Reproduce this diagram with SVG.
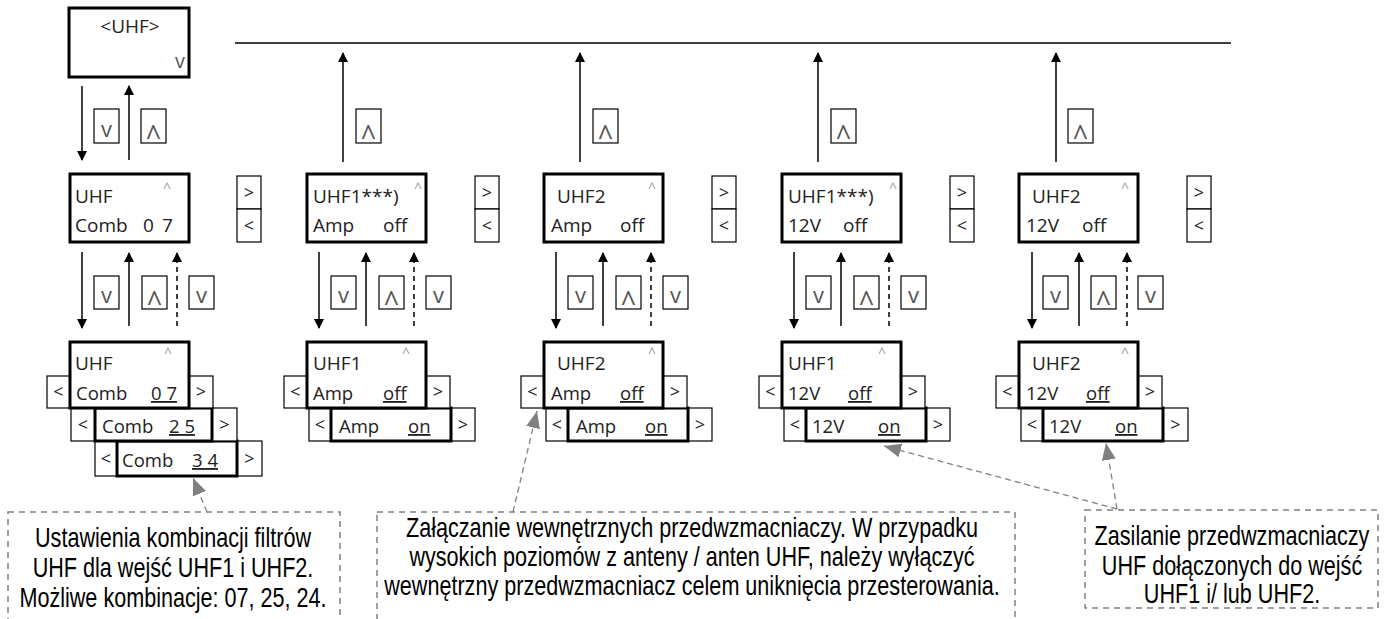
<svg xmlns="http://www.w3.org/2000/svg" width="1393" height="619" viewBox="0 0 1393 619">
<defs>
<style>
.box{fill:#fff;stroke:#000;stroke-width:3}
.btn{fill:#fff;stroke:#000;stroke-width:1.2}
.t{font-family:"Open Sans","Noto Sans",sans-serif;font-size:19px;fill:#222}
.s{font-size:18.5px}
.car{font-family:"Open Sans",sans-serif;font-size:14px;fill:#999}
.kv{font-family:"Open Sans",sans-serif;font-size:22px;fill:#555;text-anchor:middle}
.kc{font-family:"Open Sans",sans-serif;font-size:27px;fill:#555;text-anchor:middle}
.nav{font-family:"Open Sans",sans-serif;font-size:18px;fill:#222;text-anchor:middle}
.conn{stroke:#000;stroke-width:1.5;fill:none}
.dash{stroke-dasharray:5 4}
.call{fill:none;stroke:#808080;stroke-width:1.5;stroke-dasharray:6 5}
.cl{stroke:#808080;stroke-width:1.3;fill:none;stroke-dasharray:6 4}
.ct{font-family:"Liberation Sans",Arial,sans-serif;font-size:27px;fill:#000;text-anchor:middle}
.u{text-decoration:underline}
</style>
<marker id="ah" markerUnits="userSpaceOnUse" markerWidth="10" markerHeight="12" refX="9" refY="5" orient="auto">
<path d="M0,0 L10,5 L0,10 z" fill="#000"/>
</marker>
<marker id="gh" markerUnits="userSpaceOnUse" markerWidth="18" markerHeight="16" refX="17" refY="7" orient="auto">
<path d="M0,0 L17,7 L0,14 z" fill="#808080"/>
</marker>
</defs>
<rect width="1393" height="619" fill="#fff"/>

<g id="connectors">
<line class="conn" x1="235" y1="43" x2="1231" y2="43"/>
<line class="conn" x1="82" y1="86" x2="82" y2="160" marker-end="url(#ah)"/>
<line class="conn" x1="129" y1="160" x2="129" y2="86" marker-end="url(#ah)"/>
<line class="conn" x1="82" y1="252" x2="82" y2="328" marker-end="url(#ah)"/>
<line class="conn" x1="129" y1="326" x2="129" y2="253" marker-end="url(#ah)"/>
<line class="conn dash" x1="177" y1="326" x2="177" y2="253" marker-end="url(#ah)"/>
<line class="conn" x1="343" y1="162" x2="343" y2="53" marker-end="url(#ah)"/>
<line class="conn" x1="319" y1="252" x2="319" y2="328" marker-end="url(#ah)"/>
<line class="conn" x1="366" y1="326" x2="366" y2="253" marker-end="url(#ah)"/>
<line class="conn dash" x1="414" y1="326" x2="414" y2="253" marker-end="url(#ah)"/>
<line class="conn" x1="580" y1="162" x2="580" y2="53" marker-end="url(#ah)"/>
<line class="conn" x1="556" y1="252" x2="556" y2="328" marker-end="url(#ah)"/>
<line class="conn" x1="603" y1="326" x2="603" y2="253" marker-end="url(#ah)"/>
<line class="conn dash" x1="651" y1="326" x2="651" y2="253" marker-end="url(#ah)"/>
<line class="conn" x1="818" y1="162" x2="818" y2="53" marker-end="url(#ah)"/>
<line class="conn" x1="794" y1="252" x2="794" y2="328" marker-end="url(#ah)"/>
<line class="conn" x1="841" y1="326" x2="841" y2="253" marker-end="url(#ah)"/>
<line class="conn dash" x1="889" y1="326" x2="889" y2="253" marker-end="url(#ah)"/>
<line class="conn" x1="1056" y1="162" x2="1056" y2="53" marker-end="url(#ah)"/>
<line class="conn" x1="1032" y1="252" x2="1032" y2="328" marker-end="url(#ah)"/>
<line class="conn" x1="1079" y1="326" x2="1079" y2="253" marker-end="url(#ah)"/>
<line class="conn dash" x1="1127" y1="326" x2="1127" y2="253" marker-end="url(#ah)"/>
<line class="cl" x1="207" y1="512" x2="193" y2="478" marker-end="url(#gh)"/>
<line class="cl" x1="513" y1="512" x2="537" y2="411" marker-end="url(#gh)"/>
<line class="cl" x1="1117" y1="509" x2="1106" y2="443" marker-end="url(#gh)"/>
<line class="cl" x1="1117" y1="509" x2="884" y2="446" marker-end="url(#gh)"/>
</g>

<g id="keys">
<rect class="btn" x="94" y="109" width="25" height="34"/><text class="kv" x="106.5" y="137">v</text>
<rect class="btn" x="141" y="109" width="25" height="34"/><text class="kc" transform="translate(153.5,147) scale(1,1.15)">^</text>
<rect class="btn" x="356" y="109" width="25" height="34"/><text class="kc" transform="translate(368.5,147) scale(1,1.15)">^</text>
<rect class="btn" x="593" y="109" width="25" height="34"/><text class="kc" transform="translate(605.5,147) scale(1,1.15)">^</text>
<rect class="btn" x="831" y="109" width="25" height="34"/><text class="kc" transform="translate(843.5,147) scale(1,1.15)">^</text>
<rect class="btn" x="1068" y="109" width="25" height="34"/><text class="kc" transform="translate(1080.5,147) scale(1,1.15)">^</text>
<g id="keys-c1"><rect class="btn" x="94" y="276" width="25" height="33"/><text class="kv" x="106.5" y="303">v</text><rect class="btn" x="142" y="276" width="25" height="33"/><text class="kc" transform="translate(154.5,313) scale(1,1.15)">^</text><rect class="btn" x="189" y="276" width="25" height="33"/><text class="kv" x="201.5" y="303">v</text></g>
<g id="keys-c2"><rect class="btn" x="331" y="276" width="25" height="33"/><text class="kv" x="343.5" y="303">v</text><rect class="btn" x="379" y="276" width="25" height="33"/><text class="kc" transform="translate(391.5,313) scale(1,1.15)">^</text><rect class="btn" x="426" y="276" width="25" height="33"/><text class="kv" x="438.5" y="303">v</text></g>
<g id="keys-c3"><rect class="btn" x="568" y="276" width="25" height="33"/><text class="kv" x="580.5" y="303">v</text><rect class="btn" x="616" y="276" width="25" height="33"/><text class="kc" transform="translate(628.5,313) scale(1,1.15)">^</text><rect class="btn" x="663" y="276" width="25" height="33"/><text class="kv" x="675.5" y="303">v</text></g>
<g id="keys-c4"><rect class="btn" x="806" y="276" width="25" height="33"/><text class="kv" x="818.5" y="303">v</text><rect class="btn" x="854" y="276" width="25" height="33"/><text class="kc" transform="translate(866.5,313) scale(1,1.15)">^</text><rect class="btn" x="901" y="276" width="25" height="33"/><text class="kv" x="913.5" y="303">v</text></g>
<g id="keys-c5"><rect class="btn" x="1043" y="276" width="25" height="33"/><text class="kv" x="1055.5" y="303">v</text><rect class="btn" x="1091" y="276" width="25" height="33"/><text class="kc" transform="translate(1103.5,313) scale(1,1.15)">^</text><rect class="btn" x="1138" y="276" width="25" height="33"/><text class="kv" x="1150.5" y="303">v</text></g>
</g>

<g id="n-uhf-top">
<rect class="box" x="69" y="8" width="120" height="69"/>
<text class="t" x="130" y="33" text-anchor="middle">&lt;UHF&gt;</text>
<text class="kv" x="180" y="68" style="font-size:20px">v</text>
</g>

<g id="n-c1-mid">
<rect class="box" x="70" y="174" width="119" height="68"/>
<text class="t" x="75" y="203">UHF</text><text class="car" x="163" y="193">^</text>
<text class="t" x="75" y="232">Comb<tspan x="143">0</tspan><tspan x="162">7</tspan></text>
</g>
<g id="n-c2-mid">
<rect class="box" x="307" y="174" width="119" height="68"/>
<text class="t" x="313" y="203">UHF1***)</text><text class="car" x="414" y="193">^</text>
<text class="t" x="313" y="232">Amp<tspan x="383">off</tspan></text>
</g>
<g id="n-c3-mid">
<rect class="box" x="544" y="174" width="119" height="68"/>
<text class="t" x="557" y="203">UHF2</text><text class="car" x="648" y="193">^</text>
<text class="t" x="551" y="232">Amp<tspan x="620">off</tspan></text>
</g>
<g id="n-c4-mid">
<rect class="box" x="782" y="174" width="119" height="68"/>
<text class="t" x="788" y="203">UHF1***)</text><text class="car" x="889" y="193">^</text>
<text class="t" x="788" y="232">12V<tspan x="843">off</tspan></text>
</g>
<g id="n-c5-mid">
<rect class="box" x="1019" y="174" width="119" height="68"/>
<text class="t" x="1032" y="203">UHF2</text><text class="car" x="1121" y="193">^</text>
<text class="t" x="1026" y="232">12V<tspan x="1082">off</tspan></text>
</g>

<g id="nav">
<rect class="btn" x="237" y="176" width="24" height="33"/><text class="nav" x="249" y="199">&gt;</text>
<rect class="btn" x="237" y="209" width="24" height="33"/><text class="nav" x="249" y="232">&lt;</text>
<rect class="btn" x="475" y="176" width="24" height="33"/><text class="nav" x="487" y="199">&gt;</text>
<rect class="btn" x="475" y="209" width="24" height="33"/><text class="nav" x="487" y="232">&lt;</text>
<rect class="btn" x="712" y="176" width="24" height="33"/><text class="nav" x="724" y="199">&gt;</text>
<rect class="btn" x="712" y="209" width="24" height="33"/><text class="nav" x="724" y="232">&lt;</text>
<rect class="btn" x="950" y="176" width="24" height="33"/><text class="nav" x="962" y="199">&gt;</text>
<rect class="btn" x="950" y="209" width="24" height="33"/><text class="nav" x="962" y="232">&lt;</text>
<rect class="btn" x="1187" y="176" width="24" height="33"/><text class="nav" x="1199" y="199">&gt;</text>
<rect class="btn" x="1187" y="209" width="24" height="33"/><text class="nav" x="1199" y="232">&lt;</text>
</g>

<g id="n-c1-low">
<rect class="btn" x="95" y="441" width="22" height="35"/><text class="nav" x="106" y="465">&lt;</text>
<rect class="btn" x="237" y="441" width="25" height="35"/><text class="nav" x="249.5" y="465">&gt;</text>
<rect class="box" x="117" y="441" width="120" height="35"/>
<text class="t s" x="122" y="467">Comb<tspan class="u" x="192">3 4</tspan></text>
<rect class="btn" x="71" y="408" width="24" height="33"/><text class="nav" x="83" y="431">&lt;</text>
<rect class="btn" x="212" y="408" width="25" height="33"/><text class="nav" x="224.5" y="431">&gt;</text>
<rect class="box" x="95" y="408" width="117" height="33"/>
<text class="t s" x="102" y="433">Comb<tspan class="u" x="169">2 5</tspan></text>
<rect class="btn" x="47" y="376" width="23" height="32"/><text class="nav" x="58.5" y="398">&lt;</text>
<rect class="btn" x="189" y="376" width="24" height="32"/><text class="nav" x="201" y="398">&gt;</text>
<rect class="box" x="70" y="342" width="119" height="66"/>
<text class="t" x="75" y="370">UHF</text><text class="car" x="164" y="358">^</text>
<text class="t s" x="76" y="400">Comb<tspan class="u" x="151">0 7</tspan></text>
</g>

<g id="n-c2-low">
<rect class="btn" x="309" y="408" width="22" height="33"/><text class="nav" x="320" y="431">&lt;</text>
<rect class="btn" x="451" y="408" width="24" height="33"/><text class="nav" x="463" y="431">&gt;</text>
<rect class="box" x="331" y="408" width="120" height="33"/>
<text class="t s" x="339" y="433">Amp<tspan class="u" x="408">on</tspan></text>
<rect class="btn" x="284" y="376" width="23" height="32"/><text class="nav" x="295.5" y="398">&lt;</text>
<rect class="btn" x="426" y="376" width="24" height="32"/><text class="nav" x="438" y="398">&gt;</text>
<rect class="box" x="307" y="342" width="119" height="66"/>
<text class="t" x="313" y="370">UHF1</text><text class="car" x="402" y="358">^</text>
<text class="t s" x="313" y="400">Amp<tspan class="u" x="383">off</tspan></text>
</g>
<g id="n-c3-low">
<rect class="btn" x="546" y="408" width="22" height="33"/><text class="nav" x="557" y="431">&lt;</text>
<rect class="btn" x="688" y="408" width="24" height="33"/><text class="nav" x="700" y="431">&gt;</text>
<rect class="box" x="568" y="408" width="120" height="33"/>
<text class="t s" x="576" y="433">Amp<tspan class="u" x="645">on</tspan></text>
<rect class="btn" x="521" y="376" width="23" height="32"/><text class="nav" x="532.5" y="398">&lt;</text>
<rect class="btn" x="663" y="376" width="24" height="32"/><text class="nav" x="675" y="398">&gt;</text>
<rect class="box" x="544" y="342" width="119" height="66"/>
<text class="t" x="557" y="370">UHF2</text><text class="car" x="648" y="358">^</text>
<text class="t s" x="551" y="400">Amp<tspan class="u" x="620">off</tspan></text>
</g>
<g id="n-c4-low">
<rect class="btn" x="784" y="408" width="22" height="33"/><text class="nav" x="795" y="431">&lt;</text>
<rect class="btn" x="926" y="408" width="24" height="33"/><text class="nav" x="938" y="431">&gt;</text>
<rect class="box" x="806" y="408" width="120" height="33"/>
<text class="t s" x="812" y="433">12V<tspan class="u" x="878">on</tspan></text>
<rect class="btn" x="759" y="376" width="23" height="32"/><text class="nav" x="770.5" y="398">&lt;</text>
<rect class="btn" x="901" y="376" width="24" height="32"/><text class="nav" x="913" y="398">&gt;</text>
<rect class="box" x="782" y="342" width="119" height="66"/>
<text class="t" x="788" y="370">UHF1</text><text class="car" x="878" y="358">^</text>
<text class="t s" x="788" y="400">12V<tspan class="u" x="848">off</tspan></text>
</g>
<g id="n-c5-low">
<rect class="btn" x="1021" y="408" width="22" height="33"/><text class="nav" x="1032" y="431">&lt;</text>
<rect class="btn" x="1163" y="408" width="25" height="33"/><text class="nav" x="1175.5" y="431">&gt;</text>
<rect class="box" x="1043" y="408" width="120" height="33"/>
<text class="t s" x="1049" y="433">12V<tspan class="u" x="1115">on</tspan></text>
<rect class="btn" x="996" y="376" width="23" height="32"/><text class="nav" x="1007.5" y="398">&lt;</text>
<rect class="btn" x="1138" y="376" width="24" height="32"/><text class="nav" x="1150" y="398">&gt;</text>
<rect class="box" x="1019" y="342" width="119" height="66"/>
<text class="t" x="1032" y="370">UHF2</text><text class="car" x="1121" y="358">^</text>
<text class="t s" x="1026" y="400">12V<tspan class="u" x="1086">off</tspan></text>
</g>

<g id="callout-comb">
<rect class="call" x="8" y="512" width="332" height="120"/>
<g transform="translate(173,0) scale(0.8,1)">
<text class="ct" x="0" y="547">Ustawienia kombinacji filtrów</text>
<text class="ct" x="0" y="577">UHF dla wejść UHF1 i UHF2.</text>
<text class="ct" x="0" y="607">Możliwe kombinacje: 07, 25, 24.</text>
</g>
</g>
<g id="callout-amp">
<rect class="call" x="377" y="512" width="638" height="120"/>
<g transform="translate(692,0) scale(0.8,1)">
<text class="ct" x="0" y="537">Załączanie wewnętrznych przedwzmacniaczy. W przypadku</text>
<text class="ct" x="0" y="566">wysokich poziomów z anteny / anten UHF, należy wyłączyć</text>
<text class="ct" x="0" y="595">wewnętrzny przedwzmacniacz celem uniknięcia przesterowania.</text>
</g>
</g>
<g id="callout-12v">
<rect class="call" x="1085" y="510" width="293" height="98"/>
<g transform="translate(1232,0) scale(0.8,1)">
<text class="ct" x="0" y="545">Zasilanie przedwzmacniaczy</text>
<text class="ct" x="0" y="575">UHF dołączonych do wejść</text>
<text class="ct" x="0" y="603">UHF1 i/ lub UHF2.</text>
</g>
</g>
</svg>
